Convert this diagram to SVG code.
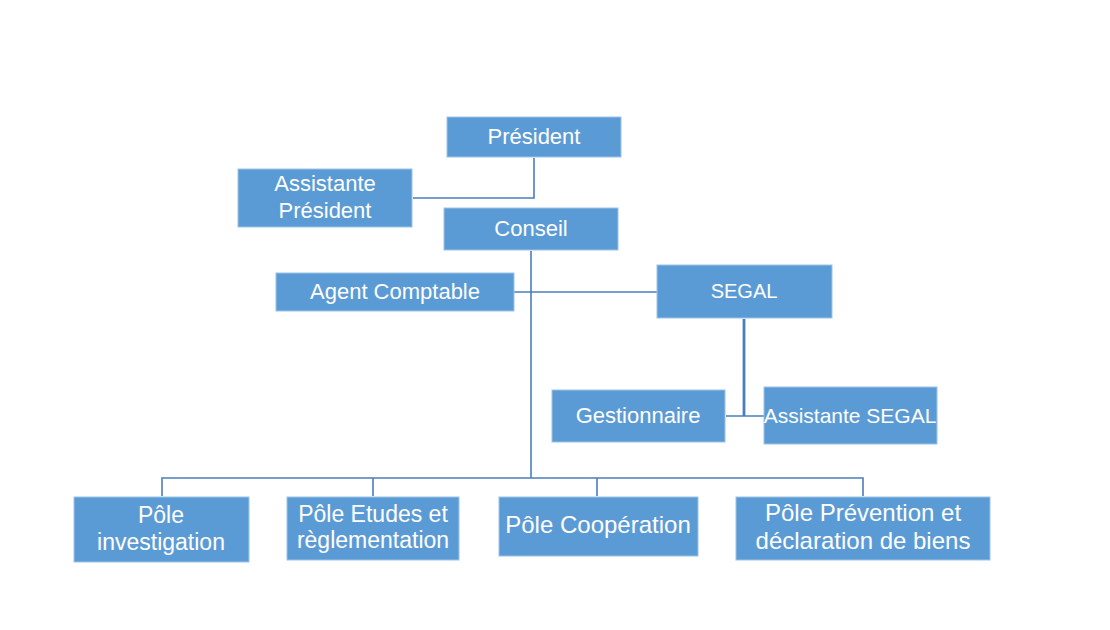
<svg xmlns="http://www.w3.org/2000/svg" width="1110" height="630" viewBox="0 0 1110 630">
<style>
.box{fill:#5B9BD5;stroke:#9DC3E6;stroke-width:1}
.t{fill:#FFFFFF;font-family:"Liberation Sans",Arial,sans-serif;font-size:22px;text-anchor:middle}
.c{fill:none;stroke:#4A7EBB;stroke-width:1.6}
</style>
<rect width="1110" height="630" fill="#FFFFFF"/>
<g id="connectors">
<polyline class="c" points="534,158 534,198 413,198"/>
<line class="c" x1="531" y1="251" x2="531" y2="478"/>
<line class="c" x1="514" y1="292" x2="657" y2="292"/>
<line class="c" x1="744" y1="319" x2="744" y2="416" style="stroke-width:2.8"/>
<line class="c" x1="726" y1="416" x2="764" y2="416"/>
<polyline class="c" points="162,496 162,478 863,478 863,496"/>
<line class="c" x1="373" y1="478" x2="373" y2="496"/>
<line class="c" x1="597" y1="478" x2="597" y2="496"/>
</g>
<g id="president">
<rect class="box" x="447" y="117" width="174" height="40"/>
<text class="t" x="534" y="144">Président</text>
</g>
<g id="assistante-president">
<rect class="box" x="238" y="169" width="174" height="58"/>
<text class="t" x="325" y="191">Assistante</text>
<text class="t" x="325" y="218">Président</text>
</g>
<g id="conseil">
<rect class="box" x="444" y="208" width="174" height="42"/>
<text class="t" x="531" y="236">Conseil</text>
</g>
<g id="agent-comptable">
<rect class="box" x="276" y="273" width="238" height="38"/>
<text class="t" x="395" y="299">Agent Comptable</text>
</g>
<g id="segal">
<rect class="box" x="657" y="265" width="175" height="53"/>
<text class="t" x="744" y="298" style="font-size:20px">SEGAL</text>
</g>
<g id="gestionnaire">
<rect class="box" x="552" y="390" width="173" height="52"/>
<text class="t" x="638" y="423">Gestionnaire</text>
</g>
<g id="assistante-segal">
<rect class="box" x="764" y="387" width="173" height="57"/>
<text class="t" x="850" y="423" style="font-size:21px">Assistante SEGAL</text>
</g>
<g id="pole-investigation">
<rect class="box" x="74" y="497" width="175" height="65"/>
<text class="t" x="161" y="523" style="font-size:23px">Pôle</text>
<text class="t" x="161" y="550" style="font-size:23px">investigation</text>
</g>
<g id="pole-etudes">
<rect class="box" x="287" y="497" width="172" height="63"/>
<text class="t" x="373" y="522" style="font-size:23px">Pôle Etudes et</text>
<text class="t" x="373" y="548" style="font-size:23px">règlementation</text>
</g>
<g id="pole-cooperation">
<rect class="box" x="499" y="497" width="199" height="59"/>
<text class="t" x="598" y="533" style="font-size:24px">Pôle Coopération</text>
</g>
<g id="pole-prevention">
<rect class="box" x="736" y="497" width="254" height="63"/>
<text class="t" x="863" y="521" style="font-size:24px">Pôle Prévention et</text>
<text class="t" x="863" y="549" style="font-size:24px">déclaration de biens</text>
</g>
</svg>
